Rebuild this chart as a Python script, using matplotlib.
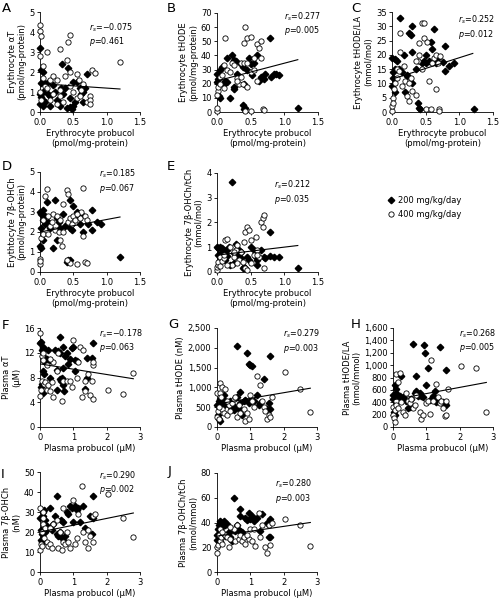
import numpy as np
import matplotlib
matplotlib.use("Agg")
import matplotlib.pyplot as plt
from matplotlib.ticker import FuncFormatter

plt.rcParams['font.family'] = ['DejaVu Sans']
plt.rcParams['mathtext.fontset'] = 'dejavusans'

# ---- data ----
# A: erythrocyte aT vs erythrocyte probucol
a_200 = [(0.0,3.2),(0.02,2.1),(0.05,2.0),(0.02,1.45),(0.1,1.45),(0.05,1.0),(0.0,0.9),(0.02,0.75),(0.05,0.6),(0.08,0.5),
         (0.0,0.4),(0.05,0.3),(0.12,0.9),(0.15,0.8),(0.15,0.3),(0.2,1.35),(0.25,0.6),(0.28,0.5),(0.3,0.3),(0.33,2.4),
         (0.35,0.9),(0.38,1.2),(0.4,0.2),(0.42,2.2),(0.45,0.25),(0.45,0.7),(0.5,0.3),(0.5,1.5),(0.52,0.5),(0.55,1.5),
         (0.6,1.2),(0.62,0.9),(0.65,0.5),(0.68,1.2),(0.7,1.9),(0.65,1.0),(0.32,1.2),(0.22,1.0),(0.48,0.15),(0.05,1.5)]
a_400 = [(0.0,4.35),(0.0,4.05),(0.02,3.8),(0.0,2.8),(0.05,2.3),(0.1,3.0),(0.3,3.15),(0.42,3.5),(0.45,3.85),(0.4,2.6),
         (0.45,2.0),(0.55,1.9),(0.78,2.1),(0.82,1.95),(1.2,2.5),(0.05,1.7),(0.08,1.3),(0.1,1.2),(0.15,1.6),(0.2,1.8),
         (0.25,1.6),(0.3,1.1),(0.3,0.8),(0.35,0.5),(0.38,1.8),(0.5,1.0),(0.55,0.7),(0.6,0.8),(0.62,1.1),(0.65,1.4),
         (0.7,0.5),(0.75,0.8),(0.75,0.6),(0.75,0.4),(0.0,1.0),(0.02,0.6),(0.15,0.6),(0.25,0.4),(0.45,1.3),(0.2,0.9),(0.58,1.6)]
# B: erythrocyte tHODE
b_200 = [(0.0,27),(0.02,23),(0.0,21),(0.03,11),(0.05,10),(0.05,30),(0.08,32),(0.1,20),(0.12,22),(0.15,21),
         (0.15,38),(0.2,10),(0.22,40),(0.25,37),(0.28,36),(0.25,18),(0.25,16),(0.3,27),(0.35,34),(0.38,32),
         (0.38,5),(0.4,2),(0.42,3),(0.45,30),(0.48,38),(0.5,34),(0.52,26),(0.6,40),(0.62,22),(0.65,25),
         (0.7,23),(0.72,27),(0.78,52),(0.8,25),(0.85,27),(0.88,27),(0.92,26),(1.2,2.5),(0.4,20),(0.55,35)]
b_400 = [(0.0,1),(0.0,3),(0.02,15),(0.02,18),(0.05,20),(0.05,25),(0.08,26),(0.1,33),(0.12,52),(0.15,30),
         (0.2,28),(0.22,35),(0.3,24),(0.32,20),(0.35,35),(0.38,20),(0.4,35),(0.4,49),(0.42,60),(0.45,52),
         (0.45,35),(0.5,53),(0.5,28),(0.55,38),(0.42,1),(0.5,1),(0.6,48),(0.62,45),(0.65,50),(0.65,38),
         (0.68,2),(0.7,1.5),(0.6,22),(0.3,22),(0.1,17),(0.0,12),(0.25,33),(0.45,18),(0.35,25),(0.55,30)]
# C: erythrocyte tHODE/LA
c_200 = [(0.0,19),(0.02,14),(0.05,15),(0.05,18.5),(0.08,18),(0.0,9),(0.05,7),(0.1,15),(0.12,33),(0.15,14),
         (0.18,20),(0.2,7),(0.22,12.5),(0.25,27.5),(0.28,27),(0.3,30),(0.3,21),(0.3,10),(0.35,15),(0.38,3),
         (0.4,1.5),(0.42,1),(0.45,17),(0.48,18),(0.5,17),(0.55,18),(0.58,24.5),(0.6,22),(0.62,29),(0.65,17),
         (0.68,19),(0.75,17.5),(0.78,23),(0.78,14.5),(0.85,16),(0.92,17),(1.22,1),(0.22,13),(0.5,20),(0.02,12)]
c_400 = [(0.0,0.5),(0.0,2),(0.02,5),(0.03,8),(0.05,10),(0.07,12),(0.08,15),(0.1,14.5),(0.12,21),(0.12,27.5),
         (0.15,9),(0.2,11),(0.22,5.5),(0.25,10),(0.28,12),(0.3,7.5),(0.35,6),(0.38,18),(0.4,24),(0.45,31),
         (0.47,31),(0.48,26),(0.52,24.5),(0.55,11),(0.5,1),(0.58,1),(0.62,19),(0.65,8),(0.65,20),(0.68,17),
         (0.7,1),(0.7,0.5),(0.72,19.5),(0.6,17),(0.45,15),(0.35,18),(0.18,16),(0.02,3),(0.25,4),(0.4,20)]
# D: erythrocyte 7b-OHCh
d_200 = [(0.0,3.0),(0.02,2.9),(0.05,3.1),(0.05,2.6),(0.08,2.4),(0.1,3.5),(0.12,2.5),(0.15,2.2),(0.0,1.3),(0.02,1.2),
         (0.05,1.6),(0.02,2.2),(0.2,1.2),(0.22,3.6),(0.25,2.7),(0.25,1.6),(0.28,2.5),(0.3,2.2),(0.35,2.9),(0.38,2.3),
         (0.4,0.5),(0.42,0.6),(0.45,0.6),(0.45,2.2),(0.45,3.6),(0.48,2.1),(0.5,3.3),(0.55,3.0),(0.58,2.8),(0.6,2.4),
         (0.62,2.9),(0.65,2.0),(0.72,2.4),(0.78,3.1),(0.78,2.1),(0.85,2.5),(0.92,2.4),(1.2,0.75),(0.08,2.8),(0.12,2.4)]
d_400 = [(0.0,0.4),(0.0,0.65),(0.0,0.55),(0.02,1.7),(0.05,1.9),(0.08,3.8),(0.1,4.15),(0.12,1.9),(0.15,2.3),(0.18,2.5),
         (0.2,2.9),(0.22,2.1),(0.28,2.0),(0.3,1.6),(0.33,1.3),(0.35,3.4),(0.4,4.1),(0.42,3.9),(0.42,2.5),(0.45,2.7),
         (0.48,2.4),(0.5,2.8),(0.52,2.6),(0.55,0.4),(0.6,2.7),(0.62,3.0),(0.65,1.8),(0.65,4.2),(0.68,2.8),(0.68,0.5),
         (0.7,0.45),(0.7,2.6),(0.45,0.45),(0.4,0.6),(0.35,2.0),(0.25,2.8),(0.12,2.8),(0.05,2.6),(0.3,2.6),(0.55,2.9)]
# E: erythrocyte 7b-OHCh/tCh
e_200 = [(0.0,1.0),(0.02,0.95),(0.05,1.0),(0.08,0.95),(0.1,0.9),(0.12,0.7),(0.12,0.5),(0.15,0.65),(0.18,1.0),(0.2,0.3),
         (0.22,3.65),(0.25,0.35),(0.25,0.75),(0.28,1.15),(0.3,0.7),(0.32,0.9),(0.35,0.8),(0.38,0.15),(0.4,0.2),(0.42,0.15),
         (0.45,0.6),(0.48,0.5),(0.5,1.0),(0.55,0.9),(0.58,0.6),(0.6,0.3),(0.65,0.9),(0.7,0.6),(0.72,0.55),(0.78,1.6),
         (0.78,0.65),(0.85,0.6),(0.92,0.6),(1.2,0.15),(0.02,0.7),(0.05,0.6),(0.15,0.9),(0.35,0.55),(0.6,0.5),(0.08,0.8)]
e_400 = [(0.0,0.1),(0.0,0.2),(0.02,0.3),(0.02,0.4),(0.05,0.6),(0.05,0.25),(0.08,0.45),(0.1,0.55),(0.12,1.3),(0.15,1.35),
         (0.2,1.0),(0.22,0.3),(0.25,0.6),(0.28,0.9),(0.3,1.1),(0.32,0.5),(0.35,0.8),(0.4,1.2),(0.42,1.6),(0.45,1.8),
         (0.48,1.7),(0.5,1.3),(0.55,0.7),(0.58,1.4),(0.6,0.9),(0.62,0.6),(0.65,2.0),(0.68,2.2),(0.7,2.3),(0.68,1.8),
         (0.7,0.15),(0.42,0.15),(0.45,0.1),(0.5,0.35),(0.38,0.4),(0.25,0.8),(0.1,0.7),(0.15,0.3),(0.6,0.7),(0.3,0.35)]
# F: plasma aT vs plasma probucol
f_200 = [(0.0,13.5),(0.02,13.8),(0.05,12.5),(0.08,13.0),(0.1,12.8),(0.1,11.5),(0.15,10.5),(0.2,11.0),(0.25,12.5),(0.3,10.8),
         (0.02,6.5),(0.05,7.0),(0.1,9.0),(0.12,8.5),(0.1,5.5),(0.3,8.0),(0.5,6.0),(0.5,9.2),(0.55,12.3),(0.6,14.5),
         (0.6,12.0),(0.6,7.8),(0.65,8.0),(0.7,6.8),(0.72,5.8),(0.7,9.5),(0.75,11.5),(0.8,12.0),(0.85,10.2),(0.9,11.0),
         (0.95,12.7),(1.0,13.0),(1.05,9.0),(1.05,10.8),(1.1,10.6),(1.35,6.2),(1.4,8.0),(1.4,11.2),(1.55,11.2),(1.6,13.5),
         (0.45,12.5),(0.68,13.0),(0.62,7.5)]
f_400 = [(0.0,15.2),(0.0,5.0),(0.02,6.0),(0.05,7.5),(0.05,11.5),(0.08,10.8),(0.1,12.0),(0.12,7.0),(0.15,7.2),(0.2,6.0),
         (0.25,6.8),(0.3,5.8),(0.35,7.2),(0.38,4.8),(0.4,10.5),(0.5,9.0),(0.55,12.0),(0.65,4.2),(0.7,7.5),(0.8,7.5),
         (0.9,7.5),(0.95,6.5),(1.0,14.0),(1.1,8.0),(1.2,13.0),(1.25,4.8),(1.3,12.5),(1.35,5.8),(1.35,7.5),(1.45,8.5),
         (1.5,5.2),(1.6,4.5),(1.6,10.0),(1.6,10.5),(1.55,7.5),(2.05,5.9),(2.5,5.3),(2.8,8.8),(0.2,10.0),(1.15,10.5),(0.3,11.0)]
# G: plasma tHODE
g_200 = [(0.0,550),(0.02,300),(0.05,200),(0.08,150),(0.1,700),(0.12,600),(0.15,650),(0.2,800),(0.25,650),(0.3,600),
         (0.35,550),(0.45,450),(0.5,430),(0.55,500),(0.6,2050),(0.65,450),(0.7,880),(0.75,300),(0.8,650),(0.85,680),
         (0.9,1880),(0.95,1580),(1.0,1560),(1.0,650),(1.05,1550),(1.1,650),(1.2,800),(1.3,600),(1.4,1200),(1.5,450),
         (1.55,600),(1.6,1800),(1.6,450),(0.4,650),(0.6,750),(0.2,550),(0.05,650),(1.25,550),(0.7,600),(0.95,600)]
g_400 = [(0.0,850),(0.0,250),(0.02,400),(0.05,200),(0.08,1100),(0.1,850),(0.12,750),(0.15,1000),(0.15,450),(0.2,350),
         (0.25,950),(0.3,300),(0.35,550),(0.4,400),(0.45,600),(0.5,700),(0.55,750),(0.6,250),(0.65,550),(0.7,350),
         (0.8,450),(0.85,150),(0.9,350),(0.95,200),(1.0,800),(1.05,650),(1.1,500),(1.2,1300),(1.3,1050),(1.35,650),
         (1.4,500),(1.45,400),(1.5,200),(1.55,300),(1.6,250),(2.05,1400),(2.5,950),(2.8,380),(0.05,500),(0.3,650),(1.65,750)]
# H: plasma tHODE/LA
h_200 = [(0.0,450),(0.02,250),(0.05,200),(0.05,680),(0.08,620),(0.1,550),(0.1,420),(0.15,450),(0.2,500),(0.25,820),
         (0.3,450),(0.4,420),(0.45,300),(0.5,320),(0.6,1340),(0.65,550),(0.7,820),(0.7,580),(0.75,500),(0.8,550),
         (0.85,500),(0.92,1320),(0.95,1200),(1.0,680),(1.05,950),(1.1,440),(1.2,500),(1.25,580),(1.3,400),(1.35,450),
         (1.4,1300),(1.5,400),(1.55,380),(1.6,920),(1.6,360),(0.55,450),(0.3,480),(0.0,520),(0.12,500),(0.9,480)]
h_400 = [(0.0,330),(0.0,200),(0.02,150),(0.05,280),(0.08,420),(0.1,850),(0.1,350),(0.15,300),(0.2,880),(0.25,400),
         (0.3,250),(0.35,200),(0.4,550),(0.45,420),(0.5,380),(0.55,450),(0.6,300),(0.65,350),(0.7,520),(0.8,250),
         (0.85,130),(0.9,200),(1.0,380),(1.05,420),(1.1,210),(1.15,1080),(1.2,420),(1.3,700),(1.35,480),(1.4,380),
         (1.45,420),(1.5,300),(1.55,180),(1.6,420),(1.6,200),(1.65,620),(2.05,990),(2.5,950),(2.8,250),(0.05,80),(0.15,720)]
# I: plasma 7b-OHCh
i_200 = [(0.0,27),(0.02,21),(0.02,16),(0.05,15),(0.08,30),(0.1,28),(0.12,31),(0.15,20),(0.2,23),(0.25,22),
         (0.3,32),(0.35,21),(0.4,24),(0.45,28),(0.5,38),(0.5,19),(0.55,18),(0.6,20),(0.65,17),(0.7,25),
         (0.72,15.5),(0.75,18),(0.8,30),(0.85,29),(0.9,33),(0.95,32),(1.0,25),(1.05,33),(1.1,31),(1.15,32),
         (1.2,25),(1.3,33),(1.35,22),(1.5,28),(1.55,19),(1.6,38),(1.6,27),(0.62,26),(0.15,26),(0.05,19)]
i_400 = [(0.0,32),(0.0,11),(0.02,14),(0.05,13),(0.05,20),(0.08,24),(0.1,27),(0.1,30),(0.12,17),(0.15,22),
         (0.2,15),(0.25,13),(0.3,14),(0.35,12),(0.4,24),(0.5,26),(0.55,12),(0.6,20),(0.65,11),(0.7,15),
         (0.75,14),(0.8,20),(0.85,15),(0.9,12),(1.0,36),(1.05,14),(1.1,17),(1.15,29),(1.25,43),(1.3,20),
         (1.35,15),(1.45,12),(1.45,21),(1.5,18),(1.6,15),(1.6,28),(1.65,29),(2.05,39),(2.5,27),(2.8,17.5),(0.3,22),(0.7,32)]
# J: plasma 7b-OHCh/tCh
j_200 = [(0.0,30),(0.0,26),(0.02,35),(0.05,38),(0.08,40),(0.1,41),(0.12,39),(0.15,40),(0.18,37),(0.2,41),
         (0.25,38),(0.3,39),(0.05,27),(0.1,25),(0.35,32),(0.4,28),(0.45,25),(0.5,60),(0.55,33),(0.6,38),
         (0.65,34),(0.68,51),(0.7,45),(0.75,32),(0.8,30),(0.85,44),(0.9,42),(0.95,48),(1.0,43),(1.05,45),
         (1.1,41),(1.2,44),(1.3,33),(1.35,47),(1.5,40),(1.55,28),(1.6,43),(1.6,28),(0.7,33),(0.25,29)]
j_400 = [(0.0,15),(0.0,20),(0.02,22),(0.05,30),(0.08,25),(0.1,35),(0.12,28),(0.15,23),(0.2,31),(0.25,30),
         (0.3,28),(0.35,20),(0.4,27),(0.5,35),(0.55,25),(0.6,38),(0.65,27),(0.7,30),(0.75,25),(0.8,28),
         (0.85,23),(0.95,27),(1.0,35),(1.05,25),(1.1,35),(1.15,21),(1.25,48),(1.3,28),(1.35,38),(1.45,20),
         (1.5,15),(1.55,38),(1.6,22),(1.65,40),(2.05,43),(2.5,38),(2.8,21),(0.15,32),(0.4,36),(0.9,30)]

# regression lines: (x_start, x_end, y_start, y_end)
fit_lines = {
    'A': (0, 1.2, 1.42, 1.15), 'B': (0, 1.2, 22, 37), 'C': (0, 1.2, 11.5, 20.5),
    'D': (0, 1.2, 2.0, 2.75), 'E': (0, 1.2, 0.68, 1.07), 'F': (0, 2.8, 10.2, 7.8),
    'G': (0, 2.8, 580, 980), 'H': (0, 2.8, 440, 720), 'I': (0, 2.8, 20, 29.5), 'J': (0, 2.8, 29, 40),
}
stats = {
    'A': ('\u22120.075', '0.461'), 'B': ('0.277', '0.005'), 'C': ('0.252', '0.012'),
    'D': ('0.185', '0.067'), 'E': ('0.212', '0.035'), 'F': ('\u22120.178', '0.063'),
    'G': ('0.279', '0.003'), 'H': ('0.268', '0.005'), 'I': ('0.290', '0.002'), 'J': ('0.280', '0.003'),
}

ery_x = 'Erythrocyte probucol\n(pmol/mg-protein)'
pla_x = 'Plasma probucol (\u03bcM)'

# panel, data, ylabel, xlabel, ylim, yticks, xlim, xticks, px rect (x0,x1,y0,y1), stat pos (x right, y top), letter pos
panels = [
    ('A', a_200, a_400, 'Erythrocyte \u03b1T\n(pmol/mg-protein)', ery_x, 5, np.arange(0, 6, 1), 1.5, [0, 0.5, 1.0, 1.5],
     (40, 140, 12, 112), (0.93, 0.91), (2, 2)),
    ('B', b_200, b_400, 'Erythrocyte tHODE\n(pmol/mg-protein)', ery_x, 70, np.arange(0, 80, 10), 1.5, [0, 0.5, 1.0, 1.5],
     (217, 318, 13, 112), (1.03, 1.03), (167, 2)),
    ('C', c_200, c_400, 'Erythrocyte tHODE/LA\n(mmol/mol)', ery_x, 35, np.arange(0, 40, 5), 1.5, [0, 0.5, 1.0, 1.5],
     (392, 493, 12, 112), (1.02, 0.98), (351, 2)),
    ('D', d_200, d_400, 'Erythtocyte 7\u03b2-OHCh\n(pmol/mg-protein)', ery_x, 5, np.arange(0, 6, 1), 1.5, [0, 0.5, 1.0, 1.5],
     (40, 140, 172, 272), (0.96, 1.04), (2, 160)),
    ('E', e_200, e_400, 'Erythrocyte 7\u03b2-OHCh/tCh\n(mmol/mol)', ery_x, 4, np.arange(0, 5, 1), 1.5, [0, 0.5, 1.0, 1.5],
     (217, 318, 173, 272), (0.93, 0.94), (167, 160)),
    ('F', f_200, f_400, 'Plasma \u03b1T\n(\u03bcM)', pla_x, 16, np.arange(0, 20, 4), 3, [0, 1, 2, 3],
     (40, 140, 328, 427), (1.03, 1.01), (2, 319)),
    ('G', g_200, g_400, 'Plasma tHODE (nM)', pla_x, 2500, np.arange(0, 3000, 500), 3, [0, 1, 2, 3],
     (217, 317, 328, 427), (1.03, 1.0), (168, 318)),
    ('H', h_200, h_400, 'Plasma tHODE/LA\n(nmol/mmol)', pla_x, 1600, np.arange(0, 1800, 200), 3, [0, 1, 2, 3],
     (393, 493, 328, 427), (1.03, 1.01), (351, 318)),
    ('I', i_200, i_400, 'Plasma 7\u03b2-OHCh\n(nM)', pla_x, 50, np.arange(0, 60, 10), 3, [0, 1, 2, 3],
     (40, 140, 472, 572), (0.96, 1.03), (1, 468)),
    ('J', j_200, j_400, 'Plasma 7\u03b2-OHCh/tCh\n(nmol/mmol)', pla_x, 80, np.arange(0, 100, 20), 3, [0, 1, 2, 3],
     (217, 317, 473, 572), (0.95, 0.95), (168, 465)),
]

W, H = 504, 598
fig = plt.figure(figsize=(W / 100, H / 100), dpi=100)

comma = FuncFormatter(lambda v, p: f'{int(v):,}')

handles = None
for (name, d200, d400, ylab, xlab, ymax, yt, xmax, xt, rect, spos, lpos) in panels:
    x0, x1, y0, y1 = rect
    ax = fig.add_axes([x0 / W, 1 - y1 / H, (x1 - x0) / W, (y1 - y0) / H])
    p200 = np.array(d200)
    p400 = np.array(d400)
    h1, = ax.plot(p200[:, 0], p200[:, 1], linestyle='none', marker='D', markersize=3.3,
                  color='black', clip_on=False, zorder=3)
    h2, = ax.plot(p400[:, 0], p400[:, 1], linestyle='none', marker='o', markersize=3.8,
                  markerfacecolor='white', markeredgecolor='black', markeredgewidth=0.6,
                  clip_on=False, zorder=4)
    if handles is None:
        handles = [h1, h2]
    fx0, fx1, fy0, fy1 = fit_lines[name]
    ax.plot([fx0, fx1], [fy0, fy1], color='black', lw=0.8, zorder=5)

    ax.set_xlim(0, xmax)
    ax.set_ylim(0, ymax)
    ax.set_yticks(yt)
    ax.set_xticks(xt)
    if xmax == 1.5:
        ax.set_xticklabels(['0.0', '0.5', '1.0', '1.5'])
    if ymax >= 1000:
        ax.yaxis.set_major_formatter(comma)
    for s in ['top', 'right']:
        ax.spines[s].set_visible(False)
    for s in ['left', 'bottom']:
        ax.spines[s].set_linewidth(0.6)
    ax.tick_params(labelsize=6, width=0.6, length=2.5, pad=1.5)
    ax.set_ylabel(ylab, fontsize=6.0, labelpad=2, linespacing=1.1)
    ax.set_xlabel(xlab, fontsize=6.0, labelpad=2, linespacing=1.1)

    rs, pv = stats[name]
    ax.text(spos[0], spos[1], r'$r_s$=' + rs + '\n' + r'$p$=' + pv, transform=ax.transAxes,
            ha='right', va='top', multialignment='left', fontsize=5.8, linespacing=1.15)

    fig.text(lpos[0] / W, 1 - lpos[1] / H, name, ha='left', va='top', fontsize=9.5)

fig.legend(handles, ['200 mg/kg/day', '400 mg/kg/day'], loc='upper left',
           bbox_to_anchor=(383 / W, 1 - 192 / H), frameon=False, fontsize=6.0,
           handlelength=0.8, handletextpad=0.5, labelspacing=0.6, borderpad=0)

fig.savefig('out.png', dpi=100)
